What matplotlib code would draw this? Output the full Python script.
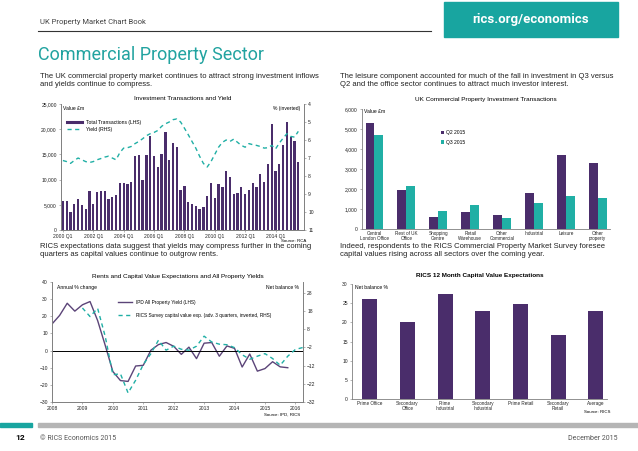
import numpy as np
import matplotlib.pyplot as plt
from matplotlib.lines import Line2D
from matplotlib.patches import Rectangle
from matplotlib.ticker import FuncFormatter

plt.rcParams['font.family'] = ['Liberation Sans Narrow', 'Liberation Sans', 'DejaVu Sans']

PURPLE = "#4a2d6b"
TEAL = "#20afa5"
GREY = "#7f7f7f"
W, H = 638, 451

# ---- top left: investment transactions (GBP m) and yield (%), 2000 Q1 - 2015 Q3
transactions = [5800, 5800, 3650, 5170, 6100, 4900, 4250, 7760, 5240, 7500,
                7760, 7700, 6230, 6630, 6900, 9400, 9280, 9080, 9550, 14720,
                14850, 9950, 14800, 18700, 14650, 12530, 14990, 19500, 13900, 17240,
                16380, 7900, 8750, 5640, 5170, 4770, 4100, 4640, 6760, 9420,
                6370, 9150, 8550, 11670, 10480, 7230, 7430, 8620, 7100, 7900,
                9350, 8620, 11140, 9480, 13000, 21020, 11740, 13000, 16900, 21490,
                18370, 17640, 13530]
yields = [7.14, 7.2, 7.3, 7.14, 7.0, 7.1, 7.2, 7.25, 7.2, 7.1,
          7.03, 6.95, 6.9, 7.0, 7.1, 6.7, 6.45, 6.43, 6.36, 6.2,
          6.08, 5.93, 5.76, 5.65, 5.58, 5.47, 5.24, 5.1, 5.0, 4.87,
          4.83, 5.0, 5.34, 5.7, 6.08, 6.45, 6.9, 7.3, 7.5, 7.2,
          6.8, 6.4, 6.13, 6.0, 6.08, 5.95, 6.13, 6.3, 6.4, 6.2,
          6.26, 6.3, 6.36, 6.45, 6.43, 6.3, 6.5, 6.17, 5.9, 5.65,
          5.8, 5.84, 5.52]
tl_ticklabels = ["2000 Q1", "2002 Q1", "2004 Q1", "2006 Q1",
                 "2008 Q1", "2010 Q1", "2012 Q1", "2014 Q1"]

# ---- top right: transactions by sector
sectors = ["Central\nLondon Office", "Rest of UK\nOffice", "Shopping\nCentre",
           "Retail\nWarehouse", "Other\nCommercial", "Industrial", "Leisure",
           "Other\nproperty"]
q2_2015 = [5300, 1930, 600, 870, 680, 1800, 3680, 3300]
q3_2015 = [4700, 2130, 920, 1200, 570, 1320, 1650, 1570]

# ---- bottom left: yield change (LHS) vs RICS expectations (RHS), quarterly from 2008 Q1
ipd_yield = [15.5, 20.5, 27.6, 23.0, 26.7, 28.6, 17.5, 3.0, -12.2, -17.5,
             -18.0, -9.0, -8.6, 0.2, 3.5, 4.7, 2.5, -2.2, 2.0, -4.7,
             4.3, 4.7, -3.3, 2.7, 1.3, -9.6, -2.0, -12.0, -10.5, -6.5,
             -9.5, -10.0]
rics_exp = [19.7, 15.0, 19.5, 4.0, -17.0, -16.5, -27.0, -20.0, -11.4, -5.4,
            2.0, -3.5, -1.3, -3.0, -3.5, -1.3, 4.2, 1.0, -0.2, -0.5,
            -2.1, -6.0, -8.5, -6.8, -5.4, -8.1, -11.8, -6.8, -3.1, -2.0]
rics_start = 4  # first quarter with a survey point (2009 Q1)
bl_years = ["2008", "2009", "2010", "2011", "2012", "2013", "2014", "2015", "2016"]

# ---- bottom right: 12 month capital value expectations
cv_sectors = ["Prime Office", "Secondary\nOffice", "Prime\nIndustrial",
              "Secondary\nIndustrial", "Prime Retail", "Secondary\nRetail", "Average"]
cv_expect = [26.2, 20.2, 27.4, 22.9, 24.8, 16.8, 23.0]


def px_axes(fig, x0, y0, x1, y1):
    return fig.add_axes([x0 / W, 1 - y1 / H, (x1 - x0) / W, (y1 - y0) / H])


def style(ax, sides):
    for s in ["left", "right", "top", "bottom"]:
        ax.spines[s].set_visible(s in sides)
        ax.spines[s].set_color(GREY)
        ax.spines[s].set_linewidth(0.6)
    ax.tick_params(labelsize=3.6, length=1.5, width=0.4, color=GREY, pad=1.5,
                   labelcolor="#222222")


fig = plt.figure(figsize=(W / 100, H / 100), dpi=100)

# header
fig.text(40 / W, 1 - 22 / H, "UK Property Market Chart Book", fontsize=5.5,
         color="#444444", va="center", family="Roboto")
fig.add_artist(Line2D([38 / W, 431 / W], [1 - 31 / H] * 2, color="#333333", lw=0.8))
fig.add_artist(Rectangle((444 / W, 1 - 37 / H), 174 / W, 35 / H, color="#18a5a0",
                         transform=fig.transFigure))
fig.text(531 / W, 1 - 20 / H, "rics.org/economics", fontsize=9.5, color="white",
         weight="bold", ha="center", va="center", family="Roboto")
fig.text(38 / W, 1 - 55 / H, "Commercial Property Sector", fontsize=13,
         color="#22a3a0", va="center", family="Roboto")

para = dict(fontsize=5.5, color="#222222", va="top", linespacing=1.15)
fig.text(40 / W, 1 - 73 / H, "The UK commercial property market continues to attract strong investment inflows\n"
         "and yields continue to compress.", **para)
fig.text(340 / W, 1 - 73 / H, "The leisure component accounted for much of the fall in investment in Q3 versus\n"
         "Q2 and the office sector continues to attract much investor interest.", **para)
fig.text(40 / W, 1 - 243 / H, "RICS expectations data suggest that yields may compress further in the coming\n"
         "quarters as capital values continue to outgrow rents.", **para)
fig.text(340 / W, 1 - 243 / H, "Indeed, respondents to the RICS Commercial Property Market Survey foresee\n"
         "capital values rising across all sectors over the coming year.", **para)

# ---- top left chart
ax1 = px_axes(fig, 61, 104, 304, 230)
x1 = np.arange(len(transactions))
ax1.bar(x1, transactions, width=0.6, color=PURPLE)
ax1.set_xlim(-0.5, 63.5)
ax1.set_ylim(0, 25000)
ax1.set_yticks(np.arange(0, 25001, 5000))
ax1.yaxis.set_major_formatter(FuncFormatter(lambda v, p: f"{int(v):,}"))
ax1.set_xticks(np.arange(0, 57, 8))
ax1.set_xticklabels(tl_ticklabels)
style(ax1, ["left", "bottom", "right"])
ax1b = ax1.twinx()
ax1b.plot(x1, yields, color=TEAL, lw=1.0, ls=(0, (3, 2.5)))
ax1b.set_ylim(11, 4)
ax1b.set_yticks(range(4, 12))
style(ax1b, ["left", "bottom", "right"])
ax1.set_title("Investment Transactions and Yield", fontsize=4.6, pad=3)
ax1.text(0.01, 0.985, "Value £m", transform=ax1.transAxes, fontsize=3.6, va="top")
ax1.text(0.985, 0.985, "% (inverted)", transform=ax1.transAxes, fontsize=3.6,
         va="top", ha="right")
ax1.legend([Line2D([], [], color=PURPLE, lw=2.2),
            Line2D([], [], color=TEAL, lw=1.0, ls=(0, (3, 2.5)))],
           ["Total Transactions (LHS)", "Yield (RHS)"], loc="upper left",
           bbox_to_anchor=(0.01, 0.9), frameon=False, fontsize=3.6,
           handlelength=3, labelspacing=0.4, borderpad=0.2)
fig.text(306 / W, 1 - 241 / H, "Source: RCA", fontsize=3.2, ha="right", va="center")

# ---- top right chart
ax2 = px_axes(fig, 362, 109, 610, 229)
x2 = np.arange(len(sectors))
ax2.bar(x2 - 0.14, q2_2015, width=0.28, color=PURPLE, label="Q2 2015")
ax2.bar(x2 + 0.14, q3_2015, width=0.28, color=TEAL, label="Q3 2015")
ax2.set_xlim(-0.39, 7.38)
ax2.set_ylim(0, 6000)
ax2.set_yticks(np.arange(0, 6001, 1000))
ax2.yaxis.set_major_formatter(FuncFormatter(lambda v, p: f"{int(v):,}"))
ax2.set_xticks(x2)
ax2.set_xticklabels(sectors, linespacing=1.0)
style(ax2, ["left", "bottom"])
ax2.tick_params(axis="x", length=0, labelsize=3.3)
ax2.set_title("UK Commercial Property Investment Transactions", fontsize=4.6, pad=6)
ax2.text(0.01, 1.0, "Value £m", transform=ax2.transAxes, fontsize=3.6, va="top")
ax2.legend(loc="upper left", bbox_to_anchor=(0.3, 0.86), frameon=False, fontsize=3.6,
           handlelength=0.7, handleheight=0.7, labelspacing=0.9, handletextpad=0.3)

# ---- bottom left chart
ax3 = px_axes(fig, 52, 282, 303, 402)
q_ipd = np.arange(len(ipd_yield))
q_rics = np.arange(rics_start, rics_start + len(rics_exp))
ax3.plot(q_ipd, ipd_yield, color="#5b4478", lw=1.0)
ax3.axhline(0, color="black", lw=0.7)
ax3.set_xlim(0, 33)
ax3.set_ylim(-30, 40)
ax3.set_yticks(range(-30, 41, 10))
ax3.set_xticks(np.arange(0, 33, 4))
ax3.set_xticklabels(bl_years)
style(ax3, ["left", "bottom", "right"])
ax3b = ax3.twinx()
ax3b.plot(q_rics, rics_exp, color=TEAL, lw=1.0, ls=(0, (3, 2.5)))
ax3b.set_ylim(-32, 34)
ax3b.set_yticks(range(-32, 29, 10))
style(ax3b, ["left", "bottom", "right"])
ax3.set_title("Rents and Capital Value Expectations and All Property Yields",
              fontsize=4.6, pad=3)
ax3.text(0.02, 0.975, "Annual % change", transform=ax3.transAxes, fontsize=3.6, va="top")
ax3.text(0.985, 0.975, "Net balance %", transform=ax3.transAxes, fontsize=3.6,
         va="top", ha="right")
ax3.legend([Line2D([], [], color="#5b4478", lw=1.0),
            Line2D([], [], color=TEAL, lw=1.0, ls=(0, (3, 2.5)))],
           ["IPD All Property Yield (LHS)",
            "RICS Survey capital value exp. (adv. 3 quarters, inverted, RHS)"],
           loc="upper left", bbox_to_anchor=(0.25, 0.88), frameon=False, fontsize=3.4,
           handlelength=3, labelspacing=1.7, borderpad=0.2)
fig.text(300 / W, 1 - 415 / H, "Source: IPD, RICS", fontsize=3.2, ha="right", va="center")

# ---- bottom right chart
ax4 = px_axes(fig, 352, 284, 607, 399)
x4 = np.arange(len(cv_sectors))
ax4.bar(x4, cv_expect, width=0.4, color=PURPLE)
ax4.set_xlim(-0.47, 6.3)
ax4.set_ylim(0, 30)
ax4.set_yticks(range(0, 31, 5))
ax4.set_xticks(x4)
ax4.set_xticklabels(cv_sectors, linespacing=1.0)
style(ax4, ["left", "bottom"])
ax4.tick_params(axis="x", length=0, labelsize=3.3)
ax4.set_title("RICS 12 Month Capital Value Expectations", fontsize=4.6, pad=5,
              weight="bold")
ax4.text(0.01, 0.995, "Net balance %", transform=ax4.transAxes, fontsize=3.6, va="top")
fig.text(610 / W, 1 - 412 / H, "Source: RICS", fontsize=3.2, ha="right", va="center")

# footer
fig.add_artist(Rectangle((0, 1 - 427 / H), 32 / W, 4 / H, color="#18a5a0",
                         transform=fig.transFigure))
fig.add_artist(Rectangle((38 / W, 1 - 427 / H), 600 / W, 4 / H, color="#b5b5b5",
                         transform=fig.transFigure))
fig.text(15 / W, 1 - 438 / H, "12", fontsize=6, weight="bold", va="center", family="Roboto")
fig.text(40 / W, 1 - 438 / H, "© RICS Economics 2015", fontsize=5, color="#555555",
         va="center", family="Roboto")
fig.text(618 / W, 1 - 438 / H, "December 2015", fontsize=5, color="#555555",
         va="center", ha="right", family="Roboto")

fig.savefig("out.png", dpi=100)
